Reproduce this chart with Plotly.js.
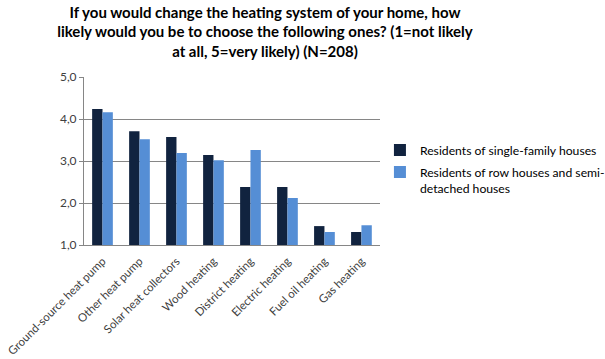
<!DOCTYPE html>
<html>
<head>
<meta charset="utf-8">
<script src="https://cdn.plot.ly/plotly-3.0.1.min.js"></script>
<style>html,body{margin:0;padding:0;background:#fff;}#chart{width:605px;height:359px;}</style>
</head>
<body>
<div id="chart"></div>
<script>
const categories = ["Ground-source heat pump","Other heat pump","Solar heat collectors","Wood heating","District heating","Electric heating","Fuel oil heating","Gas heating"];
const singleFamily = [4.24, 3.71, 3.57, 3.14, 2.38, 2.38, 1.45, 1.31];
const rowHouses = [4.16, 3.52, 3.19, 3.02, 3.26, 2.12, 1.31, 1.47];
const seriesNames = ["Residents of single-family houses", "Residents of row houses and semi-<br>detached houses"];
const yTicks = [1, 2, 3, 4, 5];

const font = "Lato, Open Sans, sans-serif";
const data = [
  {type:"bar", x:categories, y:singleFamily, name:seriesNames[0], marker:{color:"#11233F"}, legendgroup:"a"},
  {type:"bar", x:categories, y:rowHouses, name:seriesNames[1], marker:{color:"#558ED5"}, legendgroup:"b"}
];
const layout = {
  width:605, height:359,
  margin:{l:84, r:219, t:77, b:114},
  paper_bgcolor:"#fff", plot_bgcolor:"#fff",
  font:{family:font, size:12, color:"#404040"},
  barmode:"group", bargap:0.44, bargroupgap:0,
  title:{text:"<b>If you would change the heating system of your home, how<br>likely would you be to choose the following ones? (1=not likely<br>at all, 5=very likely) (N=208)</b>",
    x:0.438, xanchor:"center", y:0.951, yanchor:"top", yref:"container",
    font:{family:font, size:15, color:"#000"}},
  xaxis:{tickangle:-45, showline:true, linecolor:"#868686", ticks:"", tickfont:{size:11.5, color:"#404040"},
    ticklabelstandoff:4, automargin:false},
  yaxis:{range:[1,5], tickvals:yTicks, tickformat:".1f", showgrid:true, gridcolor:"#868686", gridwidth:1,
    showline:true, linecolor:"#868686", ticks:"outside", ticklen:4, tickcolor:"#868686", zeroline:false,
    tickfont:{size:12, color:"#404040"}, automargin:false},
  separators:",.",
  showlegend:true,
  legend:{xref:"container", yref:"container", x:0.628, xanchor:"left", y:0.529, yanchor:"middle",
    font:{family:font, size:12.2, color:"#000"}, tracegroupgap:3, valign:"top", itemwidth:30}
};
Plotly.newPlot("chart", data, layout, {displayModeBar:false, staticPlot:true});
</script>
</body>
</html>
